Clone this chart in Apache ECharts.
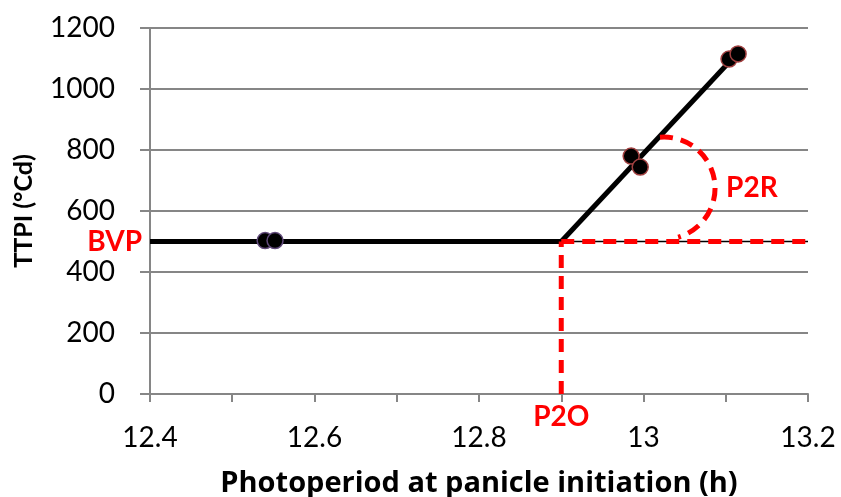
<!DOCTYPE html>
<html><head><meta charset="utf-8">
<script src="https://cdn.jsdelivr.net/npm/echarts@6/dist/echarts.min.js"></script>
<style>html,body{margin:0;padding:0;background:#fff}#c{width:841px;height:497px}</style>
</head><body><div id="c"></div>
<script>
var xTitle = 'Photoperiod at panicle initiation (h)';
var yTitle = 'TTPI (°Cd)';
var pointsLow = [[12.54, 503], [12.552, 503]];
var pointsHigh = [[12.985, 780], [12.996, 744], [13.104, 1098], [13.115, 1115]];
var bvp = 500;
var p2o = 12.9;
var slopeEnd = [13.11, 1105];
var xMax = 13.2;
var arcCenter = [13.025, 675];

var FONT = 'Lato';
var chart = echarts.init(document.getElementById('c'), null, {renderer: 'canvas'});
var red = '#ff0000';
chart.setOption({
  animation: false,
  grid: {left: 150, right: 33, top: 28, bottom: 103, containLabel: false, outerBoundsMode: 'none'},
  xAxis: {
    type: 'value', min: 12.4, max: 13.2, interval: 0.2,
    name: xTitle, nameLocation: 'middle', nameGap: 75,
    nameTextStyle: {fontFamily: 'Open Sans', fontWeight: 'bold', fontSize: 29, color: '#000'},
    axisLine: {lineStyle: {color: '#868686', width: 2}},
    axisTick: {show: true, length: 8, lineStyle: {color: '#868686', width: 2}},
    minorTick: {show: true, splitNumber: 2, length: 8, lineStyle: {color: '#868686', width: 2}},
    axisLabel: {fontFamily: FONT, fontSize: 28, color: '#000', margin: 30},
    splitLine: {show: false}
  },
  yAxis: {
    type: 'value', min: 0, max: 1200, interval: 200,
    name: yTitle, nameLocation: 'middle', nameGap: 114, nameRotate: 90,
    nameTextStyle: {fontFamily: FONT, fontWeight: 'bold', fontSize: 25, color: '#000'},
    axisLine: {show: true, lineStyle: {color: '#868686', width: 2}},
    axisTick: {show: true, length: 10, lineStyle: {color: '#868686', width: 2}},
    axisLabel: {fontFamily: FONT, fontSize: 28, color: '#000', margin: 35, formatter: function (v) { return String(v); }},
    splitLine: {show: true, lineStyle: {color: '#868686', width: 2}}
  },
  series: [
    {type: 'line', data: [[12.4, bvp], [p2o, bvp]], symbol: 'none', lineStyle: {color: '#000', width: 5}, z: 3},
    {type: 'line', data: [[p2o, bvp], slopeEnd], symbol: 'none', lineStyle: {color: '#000', width: 5}, z: 3},
    {type: 'line', data: [[p2o, bvp], [xMax, bvp]], symbol: 'none', lineStyle: {color: '#000', width: 1.5}, z: 3},
    {type: 'line', data: [[p2o, bvp], [xMax, bvp]], symbol: 'none', lineStyle: {color: red, width: 5, type: [13, 8]}, z: 4},
    {type: 'line', data: [[p2o, 0], [p2o, bvp]], symbol: 'none', lineStyle: {color: red, width: 5, type: [13, 8]}, z: 4},
    {type: 'scatter', data: pointsLow, symbolSize: 16, itemStyle: {color: '#000', borderColor: '#60497a', borderWidth: 1.5, opacity: 1}, z: 6},
    {type: 'scatter', data: pointsHigh, symbolSize: 16, itemStyle: {color: '#000', borderColor: '#a04040', borderWidth: 1.5, opacity: 1}, z: 6}
  ]
});

var c = chart.convertToPixel({gridIndex: 0}, arcCenter);
var pBvp = chart.convertToPixel({gridIndex: 0}, [12.4, bvp]);
var pP2o = chart.convertToPixel({gridIndex: 0}, [p2o, 0]);
var lblStyle = {fontFamily: FONT, fontWeight: 'bold', fontSize: 28, fill: red};
chart.setOption({
  graphic: [
    {type: 'arc', shape: {cx: c[0], cy: c[1], r: 51, startAngle: -94.6 * Math.PI / 180, endAngle: 74 * Math.PI / 180, clockwise: true},
     style: {stroke: red, lineWidth: 5, fill: null, lineDash: [13, 8]}, z: 100},
    {type: 'text', x: pBvp[0] - 8, y: pBvp[1], style: Object.assign({text: 'BVP', align: 'right', verticalAlign: 'middle'}, lblStyle), z: 100},
    {type: 'text', x: c[0] + 62, y: c[1], style: Object.assign({text: 'P2R', align: 'left', verticalAlign: 'middle'}, lblStyle), z: 100},
    {type: 'text', x: pP2o[0], y: pP2o[1] + 23, style: Object.assign({text: 'P2O', align: 'center', verticalAlign: 'middle'}, lblStyle), z: 100}
  ]
});
</script></body></html>
